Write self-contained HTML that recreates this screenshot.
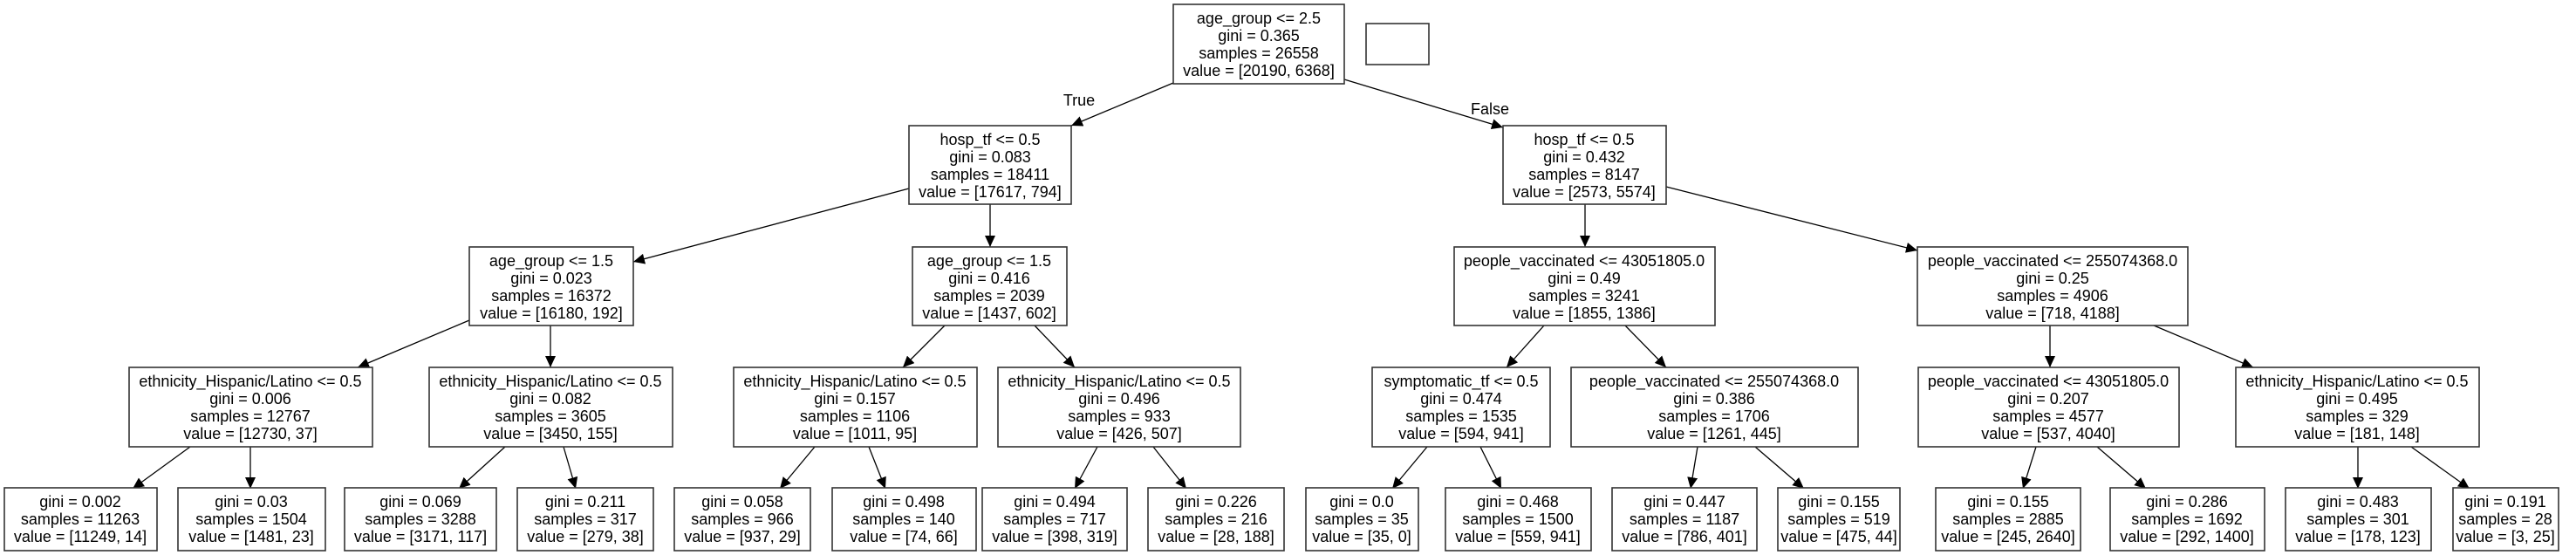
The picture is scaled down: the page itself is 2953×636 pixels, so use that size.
<!DOCTYPE html>
<html><head><meta charset="utf-8"><style>
html,body{margin:0;padding:0;background:#fff;}
svg{display:block;}
text{font-family:"Liberation Sans",Arial,sans-serif;font-size:18px;fill:#000;text-anchor:middle;}
rect{fill:#fff;stroke:#333;stroke-width:1.6;}
line{stroke:#000;stroke-width:1.3;}
</style></head><body>
<svg width="2953" height="636" viewBox="0 0 2953 636" xmlns="http://www.w3.org/2000/svg">
<defs><marker id="a" markerUnits="userSpaceOnUse" markerWidth="14" markerHeight="12" refX="13" refY="6" orient="auto"><path d="M0,0 L13,6 L0,12 z" fill="#000"/></marker></defs>
<g>
<!-- edges -->
<line x1="1345" y1="95" x2="1228" y2="144" marker-end="url(#a)"/>
<line x1="1541" y1="91" x2="1723" y2="146" marker-end="url(#a)"/>
<line x1="1042" y1="216" x2="726" y2="300" marker-end="url(#a)"/>
<line x1="1135" y1="234" x2="1135" y2="283" marker-end="url(#a)"/>
<line x1="1817" y1="234" x2="1817" y2="283" marker-end="url(#a)"/>
<line x1="1910" y1="214" x2="2198" y2="287" marker-end="url(#a)"/>
<line x1="538" y1="367" x2="410" y2="421" marker-end="url(#a)"/>
<line x1="631" y1="373" x2="631" y2="421" marker-end="url(#a)"/>
<line x1="1083" y1="373" x2="1035" y2="421" marker-end="url(#a)"/>
<line x1="1186" y1="373" x2="1232" y2="421" marker-end="url(#a)"/>
<line x1="1770" y1="373" x2="1727" y2="421" marker-end="url(#a)"/>
<line x1="1863" y1="373" x2="1910" y2="421" marker-end="url(#a)"/>
<line x1="2350" y1="373" x2="2350" y2="421" marker-end="url(#a)"/>
<line x1="2469" y1="373" x2="2583" y2="421" marker-end="url(#a)"/>
<line x1="218" y1="512" x2="152" y2="560" marker-end="url(#a)"/>
<line x1="287" y1="512" x2="287" y2="560" marker-end="url(#a)"/>
<line x1="579" y1="512" x2="526" y2="560" marker-end="url(#a)"/>
<line x1="646" y1="512" x2="660" y2="560" marker-end="url(#a)"/>
<line x1="934" y1="512" x2="894" y2="560" marker-end="url(#a)"/>
<line x1="996" y1="512" x2="1015" y2="560" marker-end="url(#a)"/>
<line x1="1258" y1="512" x2="1232" y2="560" marker-end="url(#a)"/>
<line x1="1322" y1="512" x2="1360" y2="560" marker-end="url(#a)"/>
<line x1="1636" y1="512" x2="1596" y2="560" marker-end="url(#a)"/>
<line x1="1697" y1="512" x2="1721" y2="560" marker-end="url(#a)"/>
<line x1="1946" y1="512" x2="1938" y2="560" marker-end="url(#a)"/>
<line x1="2012" y1="512" x2="2068" y2="560" marker-end="url(#a)"/>
<line x1="2334" y1="512" x2="2319" y2="560" marker-end="url(#a)"/>
<line x1="2404" y1="512" x2="2460" y2="560" marker-end="url(#a)"/>
<line x1="2703" y1="512" x2="2703" y2="560" marker-end="url(#a)"/>
<line x1="2764" y1="512" x2="2831" y2="560" marker-end="url(#a)"/>
<text x="1237" y="121">True</text>
<text x="1708" y="131">False</text>
</g>
<!-- empty box -->
<rect x="1566" y="27" width="72" height="47"/>
<!-- root -->
<rect x="1345" y="5" width="196" height="91"/>
<text x="1443" y="27">age_group &lt;= 2.5</text><text x="1443" y="47">gini = 0.365</text><text x="1443" y="67">samples = 26558</text><text x="1443" y="87">value = [20190, 6368]</text>
<!-- level 1 -->
<rect x="1042" y="144" width="186" height="90"/>
<text x="1135" y="166">hosp_tf &lt;= 0.5</text><text x="1135" y="186">gini = 0.083</text><text x="1135" y="206">samples = 18411</text><text x="1135" y="226">value = [17617, 794]</text>
<rect x="1723" y="144" width="187" height="90"/>
<text x="1816" y="166">hosp_tf &lt;= 0.5</text><text x="1816" y="186">gini = 0.432</text><text x="1816" y="206">samples = 8147</text><text x="1816" y="226">value = [2573, 5574]</text>
<!-- level 2 -->
<rect x="538" y="283" width="188" height="90"/>
<text x="632" y="305">age_group &lt;= 1.5</text><text x="632" y="325">gini = 0.023</text><text x="632" y="345">samples = 16372</text><text x="632" y="365">value = [16180, 192]</text>
<rect x="1046" y="283" width="177" height="90"/>
<text x="1134" y="305">age_group &lt;= 1.5</text><text x="1134" y="325">gini = 0.416</text><text x="1134" y="345">samples = 2039</text><text x="1134" y="365">value = [1437, 602]</text>
<rect x="1667" y="283" width="299" height="90"/>
<text x="1816" y="305">people_vaccinated &lt;= 43051805.0</text><text x="1816" y="325">gini = 0.49</text><text x="1816" y="345">samples = 3241</text><text x="1816" y="365">value = [1855, 1386]</text>
<rect x="2198" y="283" width="310" height="90"/>
<text x="2353" y="305">people_vaccinated &lt;= 255074368.0</text><text x="2353" y="325">gini = 0.25</text><text x="2353" y="345">samples = 4906</text><text x="2353" y="365">value = [718, 4188]</text>
<!-- level 3 -->
<rect x="148" y="421" width="279" height="91"/>
<text x="287" y="443">ethnicity_Hispanic/Latino &lt;= 0.5</text><text x="287" y="463">gini = 0.006</text><text x="287" y="483">samples = 12767</text><text x="287" y="503">value = [12730, 37]</text>
<rect x="492" y="421" width="279" height="91"/>
<text x="631" y="443">ethnicity_Hispanic/Latino &lt;= 0.5</text><text x="631" y="463">gini = 0.082</text><text x="631" y="483">samples = 3605</text><text x="631" y="503">value = [3450, 155]</text>
<rect x="841" y="421" width="279" height="91"/>
<text x="980" y="443">ethnicity_Hispanic/Latino &lt;= 0.5</text><text x="980" y="463">gini = 0.157</text><text x="980" y="483">samples = 1106</text><text x="980" y="503">value = [1011, 95]</text>
<rect x="1144" y="421" width="278" height="91"/>
<text x="1283" y="443">ethnicity_Hispanic/Latino &lt;= 0.5</text><text x="1283" y="463">gini = 0.496</text><text x="1283" y="483">samples = 933</text><text x="1283" y="503">value = [426, 507]</text>
<rect x="1573" y="421" width="204" height="91"/>
<text x="1675" y="443">symptomatic_tf &lt;= 0.5</text><text x="1675" y="463">gini = 0.474</text><text x="1675" y="483">samples = 1535</text><text x="1675" y="503">value = [594, 941]</text>
<rect x="1801" y="421" width="329" height="91"/>
<text x="1965" y="443">people_vaccinated &lt;= 255074368.0</text><text x="1965" y="463">gini = 0.386</text><text x="1965" y="483">samples = 1706</text><text x="1965" y="503">value = [1261, 445]</text>
<rect x="2199" y="421" width="299" height="91"/>
<text x="2348" y="443">people_vaccinated &lt;= 43051805.0</text><text x="2348" y="463">gini = 0.207</text><text x="2348" y="483">samples = 4577</text><text x="2348" y="503">value = [537, 4040]</text>
<rect x="2563" y="421" width="279" height="91"/>
<text x="2702" y="443">ethnicity_Hispanic/Latino &lt;= 0.5</text><text x="2702" y="463">gini = 0.495</text><text x="2702" y="483">samples = 329</text><text x="2702" y="503">value = [181, 148]</text>
<!-- leaves -->
<rect x="5" y="559" width="175" height="72"/>
<text x="92" y="581">gini = 0.002</text><text x="92" y="601">samples = 11263</text><text x="92" y="621">value = [11249, 14]</text>
<rect x="204" y="559" width="169" height="72"/>
<text x="288" y="581">gini = 0.03</text><text x="288" y="601">samples = 1504</text><text x="288" y="621">value = [1481, 23]</text>
<rect x="395" y="559" width="174" height="72"/>
<text x="482" y="581">gini = 0.069</text><text x="482" y="601">samples = 3288</text><text x="482" y="621">value = [3171, 117]</text>
<rect x="593" y="559" width="156" height="72"/>
<text x="671" y="581">gini = 0.211</text><text x="671" y="601">samples = 317</text><text x="671" y="621">value = [279, 38]</text>
<rect x="773" y="559" width="156" height="72"/>
<text x="851" y="581">gini = 0.058</text><text x="851" y="601">samples = 966</text><text x="851" y="621">value = [937, 29]</text>
<rect x="954" y="559" width="165" height="72"/>
<text x="1036" y="581">gini = 0.498</text><text x="1036" y="601">samples = 140</text><text x="1036" y="621">value = [74, 66]</text>
<rect x="1126" y="559" width="166" height="72"/>
<text x="1209" y="581">gini = 0.494</text><text x="1209" y="601">samples = 717</text><text x="1209" y="621">value = [398, 319]</text>
<rect x="1316" y="559" width="156" height="72"/>
<text x="1394" y="581">gini = 0.226</text><text x="1394" y="601">samples = 216</text><text x="1394" y="621">value = [28, 188]</text>
<rect x="1497" y="559" width="129" height="72"/>
<text x="1561" y="581">gini = 0.0</text><text x="1561" y="601">samples = 35</text><text x="1561" y="621">value = [35, 0]</text>
<rect x="1657" y="559" width="167" height="72"/>
<text x="1740" y="581">gini = 0.468</text><text x="1740" y="601">samples = 1500</text><text x="1740" y="621">value = [559, 941]</text>
<rect x="1848" y="559" width="166" height="72"/>
<text x="1931" y="581">gini = 0.447</text><text x="1931" y="601">samples = 1187</text><text x="1931" y="621">value = [786, 401]</text>
<rect x="2038" y="559" width="140" height="72"/>
<text x="2108" y="581">gini = 0.155</text><text x="2108" y="601">samples = 519</text><text x="2108" y="621">value = [475, 44]</text>
<rect x="2219" y="559" width="166" height="72"/>
<text x="2302" y="581">gini = 0.155</text><text x="2302" y="601">samples = 2885</text><text x="2302" y="621">value = [245, 2640]</text>
<rect x="2419" y="559" width="177" height="72"/>
<text x="2507" y="581">gini = 0.286</text><text x="2507" y="601">samples = 1692</text><text x="2507" y="621">value = [292, 1400]</text>
<rect x="2620" y="559" width="167" height="72"/>
<text x="2703" y="581">gini = 0.483</text><text x="2703" y="601">samples = 301</text><text x="2703" y="621">value = [178, 123]</text>
<rect x="2812" y="559" width="121" height="72"/>
<text x="2872" y="581">gini = 0.191</text><text x="2872" y="601">samples = 28</text><text x="2872" y="621">value = [3, 25]</text>
</svg>
</body></html>
